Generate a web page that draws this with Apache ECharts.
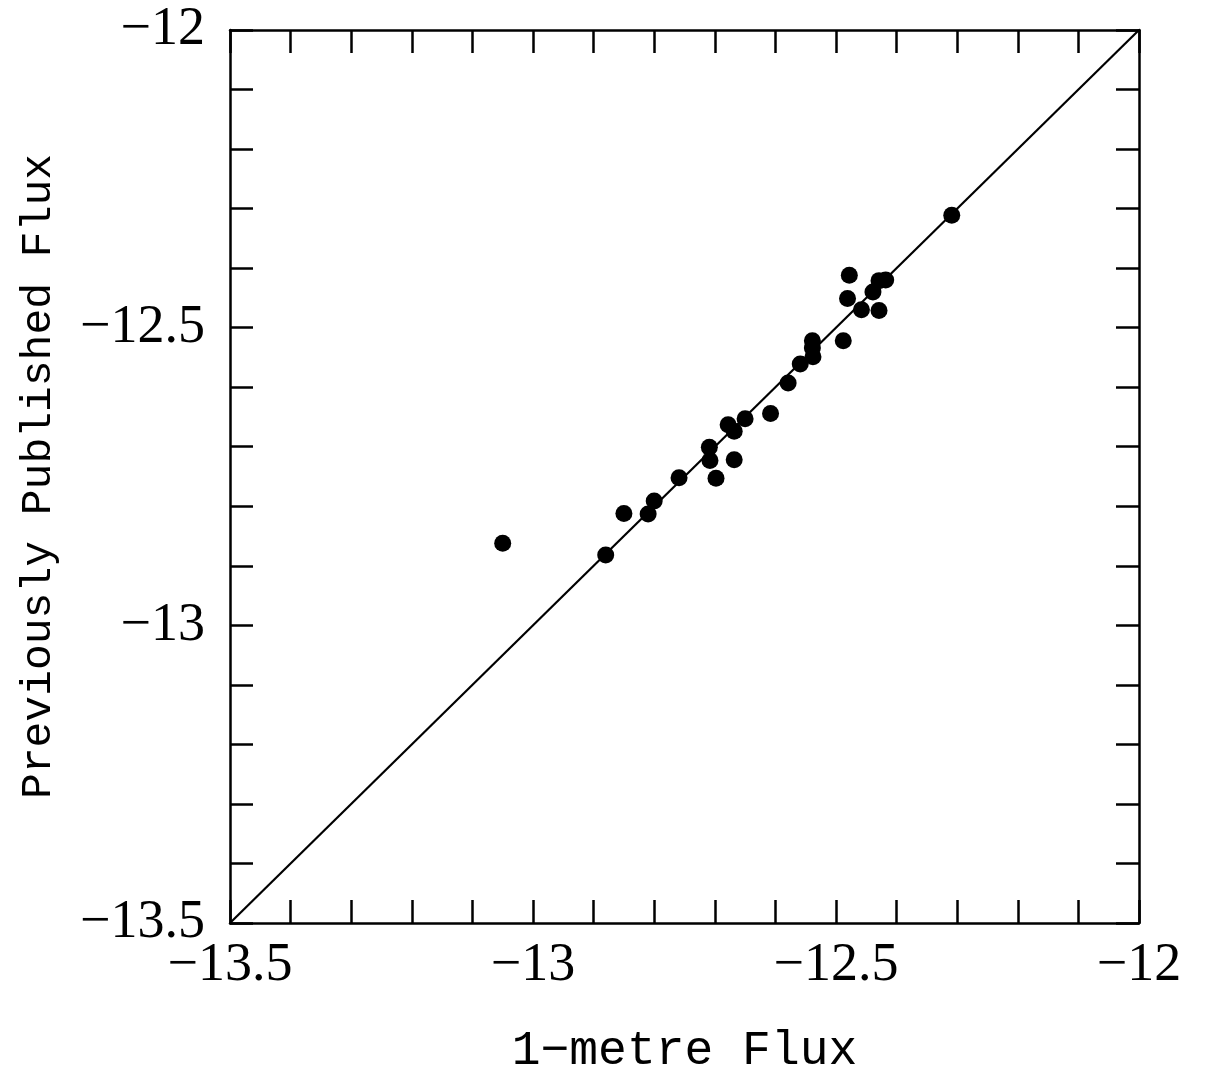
<!DOCTYPE html>
<html>
<head>
<meta charset="utf-8">
<script src="https://cdn.jsdelivr.net/npm/echarts@6/dist/echarts.min.js"></script>
<style>
html,body{margin:0;padding:0;background:#fff;}
#chart{width:1207px;height:1084px;}
</style>
</head>
<body>
<div id="chart"></div>
<script>
// 1-metre flux (x) vs previously published flux (y), log units
const oneMetreFlux = [-13.050, -12.880, -12.850, -12.810, -12.800, -12.759, -12.709, -12.708, -12.698, -12.678, -12.668, -12.668, -12.650, -12.608, -12.579, -12.559, -12.538, -12.539, -12.539, -12.488, -12.478, -12.481, -12.458, -12.439, -12.429, -12.418, -12.429, -12.309];
const publishedFlux = [-12.862, -12.882, -12.812, -12.813, -12.791, -12.752, -12.701, -12.723, -12.753, -12.663, -12.674, -12.722, -12.653, -12.644, -12.593, -12.561, -12.549, -12.534, -12.522, -12.522, -12.412, -12.451, -12.470, -12.440, -12.421, -12.420, -12.471, -12.311];
const equalityLine = [-13.5, -12];
const xTickValues = [-13.5, -13, -12.5, -12];
const xTickLabels = ['\u221213.5', '\u221213', '\u221212.5', '\u221212'];
const yTickValues = [-13.5, -13, -12.5, -12];
const yTickLabels = ['\u221213.5', '\u221213', '\u221212.5', '\u221212'];
const xTitle = '1\u2212metre Flux';
const yTitle = 'Previously Published Flux';

function labelFor(values, labels) {
  return function (v) {
    for (let i = 0; i < values.length; i++) {
      if (Math.abs(values[i] - v) < 1e-6) return labels[i];
    }
    return '';
  };
}

const black = '#000';
const tickStyle = { color: black, width: 2.5 };
function axisBase(extra) {
  return Object.assign({
    type: 'value', min: -13.5, max: -12, interval: 0.5,
    axisLine: { show: true, onZero: false, lineStyle: { color: black, width: 2.5 } },
    axisTick: { show: true, inside: true, length: 23, lineStyle: tickStyle },
    minorTick: { show: true, splitNumber: 5, length: 23, lineStyle: tickStyle },
    splitLine: { show: false },
    minorSplitLine: { show: false }
  }, extra);
}
const labelFont = { fontFamily: 'Liberation Serif', fontSize: 54, color: black };

const chart = echarts.init(document.getElementById('chart'), null, { renderer: 'canvas' });
chart.setOption({
  backgroundColor: '#fff',
  animation: false,
  grid: { left: 230, right: 68, top: 30, bottom: 161 },
  xAxis: [
    axisBase({
      position: 'bottom',
      axisLabel: Object.assign({ margin: 16, formatter: labelFor(xTickValues, xTickLabels) }, labelFont),
      name: xTitle, nameLocation: 'middle', nameGap: 104,
      nameTextStyle: { fontFamily: 'Liberation Mono', fontSize: 48, color: black }
    }),
    axisBase({ position: 'top', axisLabel: { show: false } })
  ],
  yAxis: [
    axisBase({
      position: 'left',
      axisLabel: Object.assign({ margin: 25, formatter: labelFor(yTickValues, yTickLabels) }, labelFont),
      name: yTitle, nameLocation: 'middle', nameGap: 170, nameRotate: 90,
      nameTextStyle: { fontFamily: 'Liberation Mono', fontSize: 43, color: black }
    }),
    axisBase({ position: 'right', axisLabel: { show: false } })
  ],
  series: [
    {
      type: 'line',
      data: equalityLine.map(v => [v, v]),
      showSymbol: false, symbol: 'none',
      lineStyle: { color: black, width: 2.2 },
      silent: true, z: 2
    },
    {
      type: 'scatter',
      data: oneMetreFlux.map((x, i) => [x, publishedFlux[i]]),
      symbol: 'circle', symbolSize: 17,
      itemStyle: { color: black, opacity: 1 },
      z: 3
    }
  ]
});
</script>
</body>
</html>
